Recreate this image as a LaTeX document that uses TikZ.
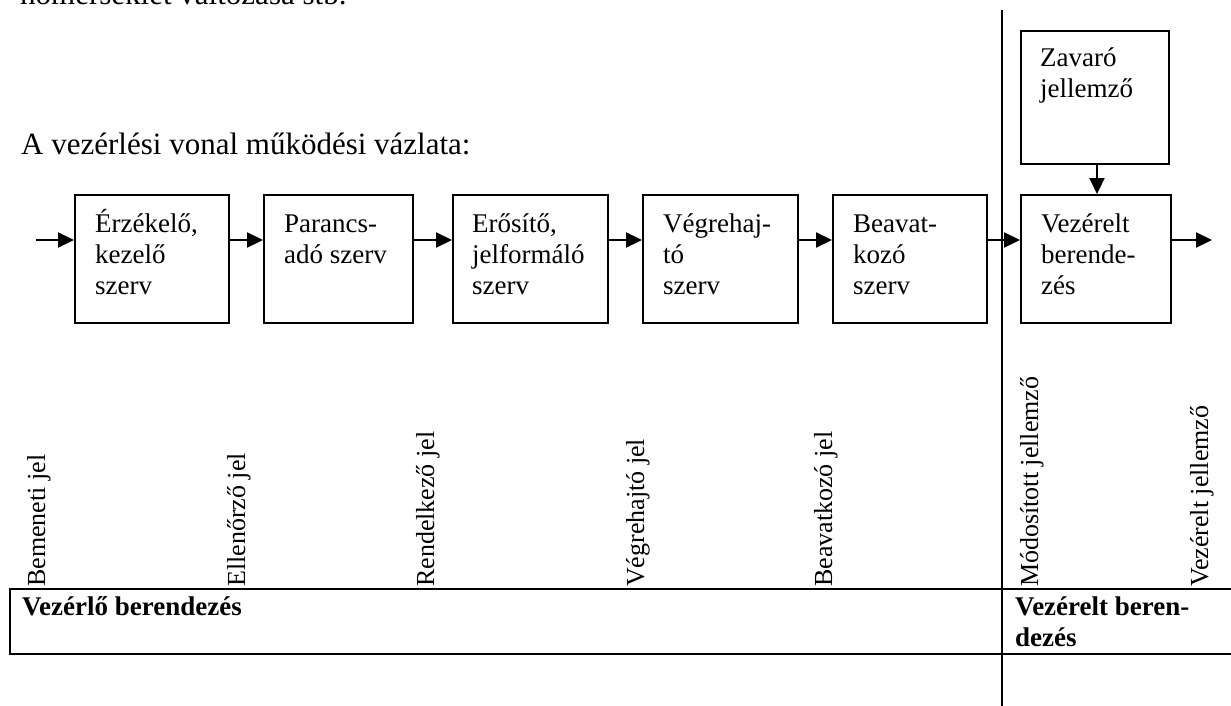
\documentclass[tikz,border=0pt]{standalone}
\usepackage{fontspec}
\setmainfont{Liberation Serif}
\usetikzlibrary{arrows.meta,calc}
\begin{document}
\begin{tikzpicture}[x=1pt,y=-1pt,
  blk/.style={draw, line width=2pt, minimum width=#1, minimum height=128pt,
    inner sep=0pt, anchor=north west},
  txt/.style={font=\fontsize{27}{31}\selectfont, inner sep=0pt, anchor=base west},
  head/.style={font=\fontsize{31}{36}\selectfont, inner sep=0pt, anchor=base west},
  vlbl/.style={font=\fontsize{26}{30}\selectfont, inner sep=0pt, rotate=90, anchor=base west},
  cell/.style={font=\bfseries\fontsize{27}{31}\selectfont, inner sep=0pt, anchor=base west},
  arr/.style={line width=2.2pt, -{Triangle[length=16pt, width=15pt]}},
  rule/.style={line width=2.8pt}]
\useasboundingbox (0,0) rectangle (1231,706);

% running text above the diagram
\node[head] (prev) at (20,5) {hőmérséklet változása stb.};
\node[head] (title) at (21,154) {A vezérlési vonal működési vázlata:};

% separator between the controlling and the controlled device
\coordinate (vtop) at (1002,10);
\coordinate (vbot) at (1002,712);
\draw[rule] (vtop) -- (vbot);

% blocks of the control chain
\node[blk=154pt] (b1) at (74,194) {};
\node[blk=149pt] (b2) at (263,194) {};
\node[blk=155pt] (b3) at (452,194) {};
\node[blk=155pt] (b4) at (642,194) {};
\node[blk=154pt] (b5) at (832,194) {};
\node[blk=150pt] (b6) at (1020,194) {};
\node[draw, line width=2pt, minimum width=148pt, minimum height=133pt,
  inner sep=0pt, anchor=north west] (zv) at (1020,30) {};

% block texts
\node[txt] (b1a) at (95,232) {Érzékelő,};
\node[txt] (b1b) at (95,263) {kezelő};
\node[txt] (b1c) at (95,294) {szerv};
\node[txt] (b2a) at (284,232) {Parancs-};
\node[txt] (b2b) at (284,263) {adó szerv};
\node[txt] (b3a) at (472,232) {Erősítő,};
\node[txt] (b3b) at (472,263) {jelformáló};
\node[txt] (b3c) at (472,294) {szerv};
\node[txt] (b4a) at (663,232) {Végrehaj-};
\node[txt] (b4b) at (663,263) {tó};
\node[txt] (b4c) at (663,294) {szerv};
\node[txt] (b5a) at (853,232) {Beavat-};
\node[txt] (b5b) at (853,263) {kozó};
\node[txt] (b5c) at (853,294) {szerv};
\node[txt] (b6a) at (1041,232) {Vezérelt};
\node[txt] (b6b) at (1041,263) {berende-};
\node[txt] (b6c) at (1041,294) {zés};
\node[txt] (zva) at (1040,67) {Zavaró};
\node[txt] (zvb) at (1040,98) {jellemző};

% signal flow
\coordinate (ay) at (0,240);
\coordinate (in) at (36,240);
\coordinate (out) at (1212,240);
\coordinate (zx) at (1097,0);
\draw[arr] (in) -- (b1.west |- ay);
\draw[arr] (b1.east |- ay) -- (b2.west |- ay);
\draw[arr] (b2.east |- ay) -- (b3.west |- ay);
\draw[arr] (b3.east |- ay) -- (b4.west |- ay);
\draw[arr] (b4.east |- ay) -- (b5.west |- ay);
\draw[arr] (b5.east |- ay) -- (b6.west |- ay);
\draw[arr] (b6.east |- ay) -- (out);
\draw[arr] (zx |- zv.south) -- (zx |- b6.north);

% signal names
\node[vlbl] (s1) at (45,587) {Bemeneti jel};
\node[vlbl] (s2) at (245,587) {Ellenőrző jel};
\node[vlbl] (s3) at (434,587) {Rendelkező jel};
\node[vlbl] (s4) at (644,587) {Végrehajtó jel};
\node[vlbl] (s5) at (832,587) {Beavatkozó jel};
\node[vlbl] (s6) at (1038,587) {Módosított jellemző};
\node[vlbl] (s7) at (1208,587) {Vezérelt jellemző};

% device table
\draw[rule] (10,589) rectangle (1002,654);
\draw[rule] (1002,589) -- (1240,589);
\draw[rule] (1002,654) -- (1240,654);
\node[cell] (c1) at (22,615) {Vezérlő berendezés};
\node[cell] (c2a) at (1015,615) {Vezérelt beren-};
\node[cell] (c2b) at (1015,646) {dezés};
\end{tikzpicture}
\end{document}
